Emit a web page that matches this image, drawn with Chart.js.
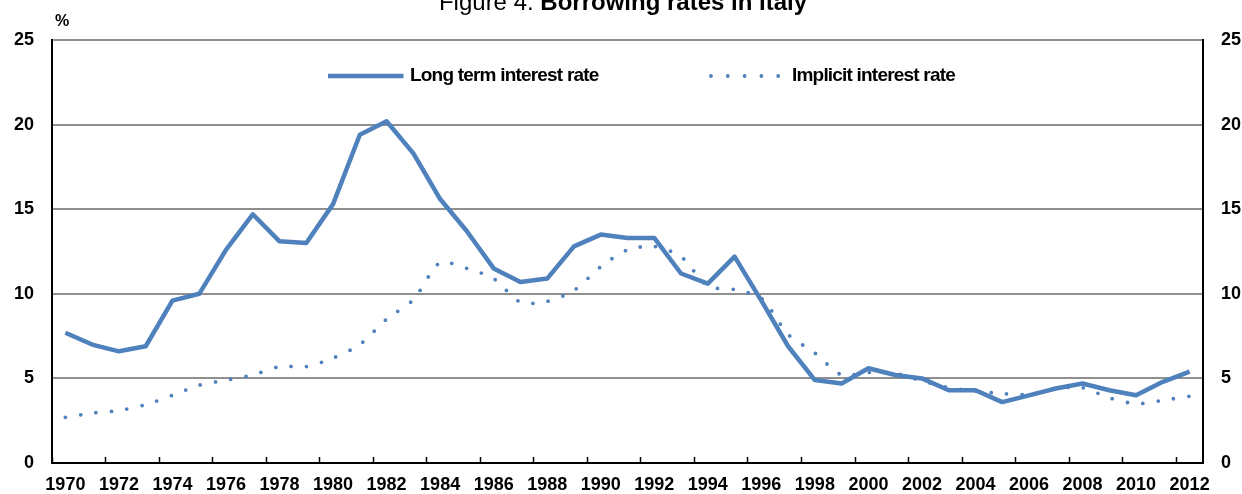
<!DOCTYPE html>
<html>
<head>
<meta charset="utf-8">
<script src="https://cdn.jsdelivr.net/npm/chart.js@4"></script>
<style>
  html, body { margin: 0; padding: 0; background: #fff; overflow: hidden; }
  #wrap { position: relative; width: 1260px; height: 494px; }
  #title {
    position: absolute; top: -12px; left: 0; width: 1246px;
    text-align: center; white-space: nowrap; color: #000;
    font: 24px "Liberation Sans", Arial, sans-serif;
  }
</style>
</head>
<body>
<div id="wrap">
  <canvas id="rates"></canvas>
  <div id="title">Figure 4. <b>Borrowing rates in Italy</b></div>
</div>
<script>
const years = [
  '1970', '1971', '1972', '1973', '1974', '1975', '1976', '1977', '1978', '1979',
  '1980', '1981', '1982', '1983', '1984', '1985', '1986', '1987', '1988', '1989',
  '1990', '1991', '1992', '1993', '1994', '1995', '1996', '1997', '1998', '1999',
  '2000', '2001', '2002', '2003', '2004', '2005', '2006', '2007', '2008', '2009',
  '2010', '2011', '2012'
];

// long term interest rate, %
const longTerm = [
  7.7, 7.0, 6.6, 6.9, 9.6, 10.0, 12.6, 14.7, 13.1, 13.0,
  15.3, 19.4, 20.2, 18.3, 15.6, 13.7, 11.5, 10.7, 10.9, 12.8,
  13.5, 13.3, 13.3, 11.2, 10.6, 12.2, 9.6, 6.9, 4.9, 4.7,
  5.6, 5.2, 5.0, 4.3, 4.3, 3.6, 4.0, 4.4, 4.7, 4.3,
  4.0, 4.8, 5.4
];

// implicit interest rate, %
const implicitRate = [
  2.7, 2.95, 3.1, 3.45, 4.0, 4.6, 4.9, 5.2, 5.7, 5.7,
  6.2, 7.0, 8.5, 9.65, 11.85, 11.5, 10.9, 9.5, 9.55, 10.2,
  11.6, 12.6, 12.8, 12.2, 10.45, 10.25, 9.75, 7.6, 6.5, 5.2,
  5.35, 5.3, 4.85, 4.45, 4.25, 4.1, 4.05, 4.4, 4.45, 3.85,
  3.5, 3.7, 3.95
];

const yTicks = [0, 5, 10, 15, 20, 25];

const blue = '#4F81BD';
const family = '"Liberation Sans", Arial, sans-serif';
const tickFont = { family: family, size: 18, weight: 'bold' };

// draws the % unit and the legend inside the plot, like the excel original
const overlay = {
  id: 'overlay',
  afterDraw(chart) {
    const ctx = chart.ctx;
    const a = chart.chartArea;
    ctx.save();
    ctx.fillStyle = '#000';
    ctx.textBaseline = 'middle';
    ctx.textAlign = 'left';
    ctx.font = 'bold 16px ' + family;
    ctx.fillText('%', a.left + 3, a.top - 18);

    const spots = [
      { x: 276, len: 75, tx: 358 },
      { x: 659, len: 67, tx: 740 }
    ];
    const y = a.top + 36;
    chart.data.datasets.forEach((ds, i) => {
      const s = spots[i];
      ctx.beginPath();
      ctx.strokeStyle = ds.borderColor;
      ctx.lineWidth = ds.borderWidth;
      ctx.lineCap = ds.borderCapStyle || 'butt';
      ctx.setLineDash(ds.legendDash || []);
      ctx.moveTo(a.left + s.x, y);
      ctx.lineTo(a.left + s.x + s.len + 0.5, y);
      ctx.stroke();
      ctx.setLineDash([]);
      ctx.font = 'bold 19px ' + family;
      ctx.letterSpacing = '-0.8px';
      ctx.fillText(ds.label, a.left + s.tx, y);
    });
    ctx.restore();
  }
};

new Chart(document.getElementById('rates'), {
  type: 'line',
  data: {
    labels: years,
    datasets: [
      {
        label: 'Long term interest rate',
        data: longTerm,
        borderColor: blue,
        borderWidth: 4.5,
        borderJoinStyle: 'round',
        pointRadius: 0,
        tension: 0
      },
      {
        label: 'Implicit interest rate',
        data: implicitRate,
        borderColor: blue,
        borderWidth: 3.8,
        borderDash: [0, 15.5],
        legendDash: [0, 16.8],
        borderCapStyle: 'round',
        pointRadius: 0,
        tension: 0.25
      }
    ]
  },
  options: {
    responsive: true,
    maintainAspectRatio: false,
    animation: false,
    layout: { padding: { top: 40, left: 0, right: 0, bottom: 0 } },
    plugins: {
      legend: { display: false },
      title: { display: false },
      tooltip: { enabled: false }
    },
    scales: {
      x: {
        offset: true,
        grid: {
          offset: true,
          drawOnChartArea: false,
          drawTicks: true,
          tickLength: -6,
          tickWidth: 1.5,
          tickColor: (c) => (c.index % 2 === 0 ? '#000' : 'rgba(0,0,0,0)')
        },
        border: { color: '#000', width: 2 },
        ticks: {
          autoSkip: false,
          maxRotation: 0,
          padding: 17,
          color: '#000',
          font: tickFont,
          callback(v, i) { return i % 2 === 0 ? this.getLabelForValue(v) : ''; }
        },
        afterFit(s) { s.height = 31; }
      },
      y: {
        min: yTicks[0],
        max: yTicks[yTicks.length - 1],
        afterBuildTicks(s) { s.ticks = yTicks.map(v => ({ value: v })); },
        grid: { color: '#8f8f8f', lineWidth: 2, drawTicks: false },
        border: { color: '#000', width: 2 },
        ticks: { padding: 18, color: '#000', font: tickFont },
        afterFit(s) { s.width = 52; }
      },
      y2: {
        position: 'right',
        min: yTicks[0],
        max: yTicks[yTicks.length - 1],
        afterBuildTicks(s) { s.ticks = yTicks.map(v => ({ value: v })); },
        grid: { display: false, drawTicks: false },
        border: { color: '#000', width: 2 },
        ticks: { padding: 18, color: '#000', font: tickFont },
        afterFit(s) { s.width = 57; }
      }
    }
  },
  plugins: [overlay]
});
</script>
</body>
</html>
